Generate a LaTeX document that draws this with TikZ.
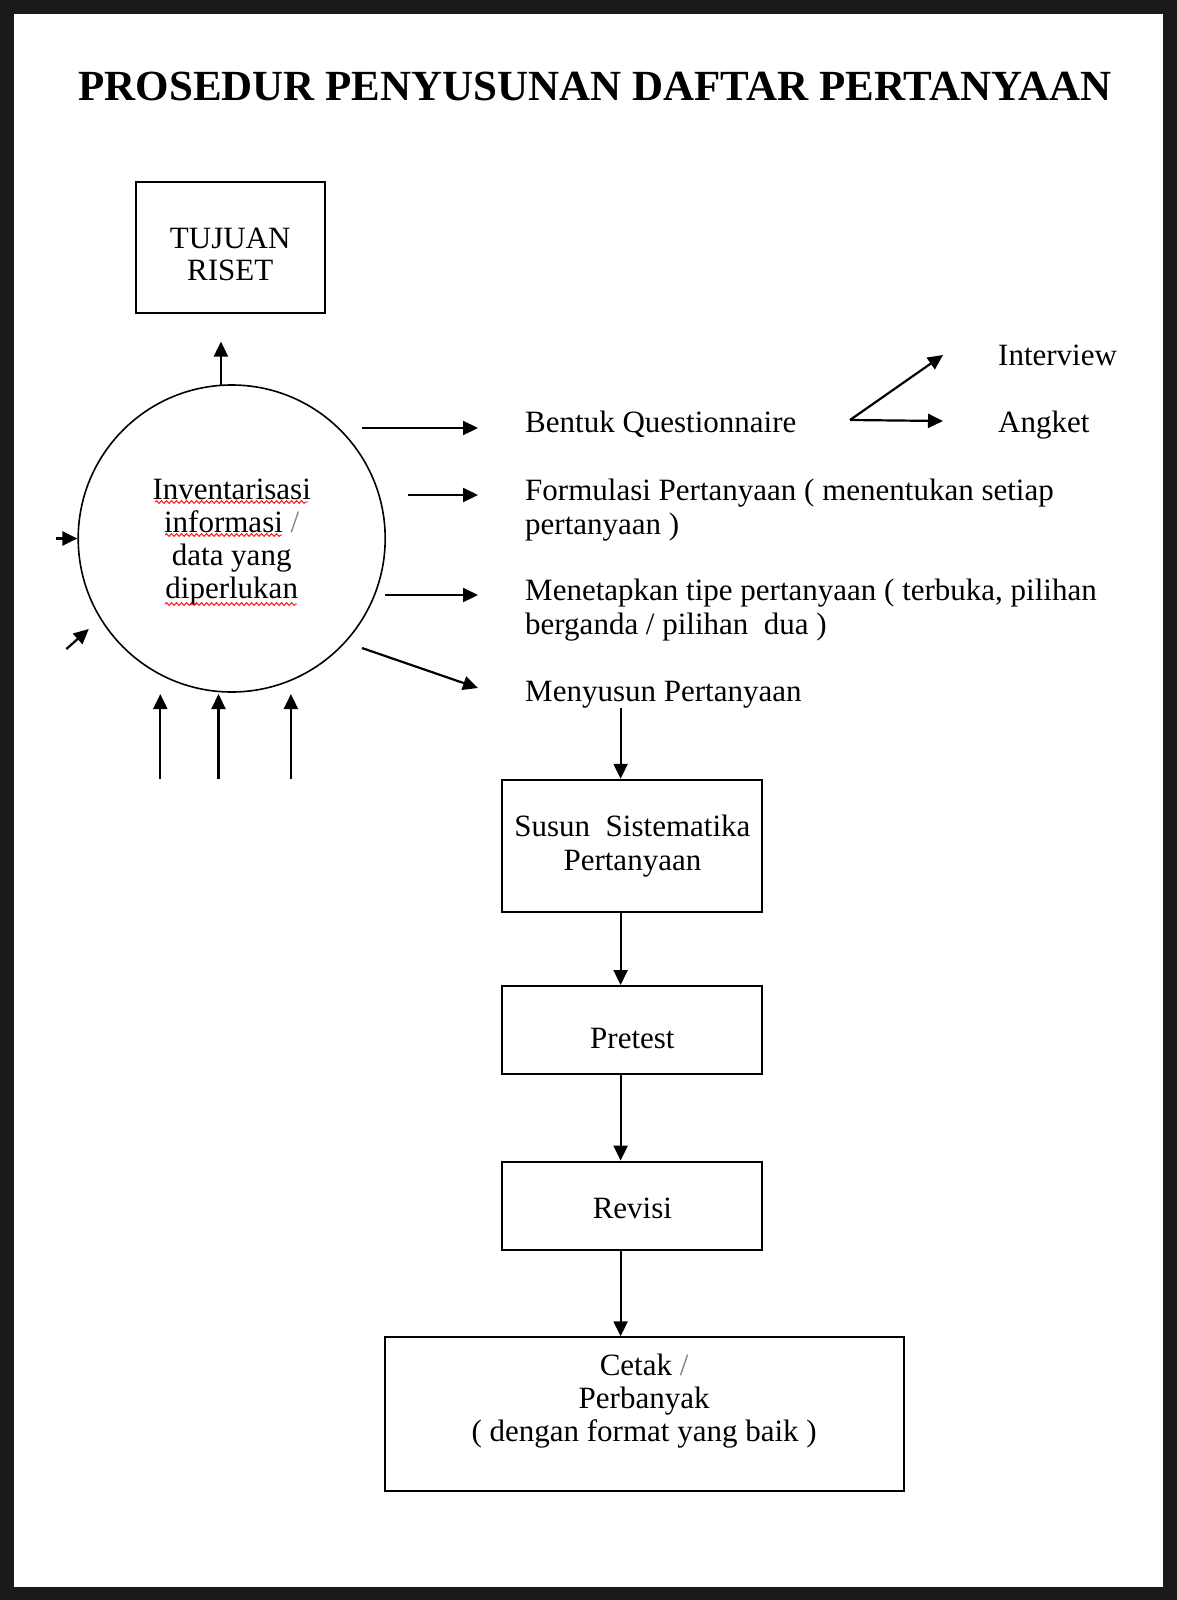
\documentclass[tikz,border=0pt]{standalone}
\usepackage{fontspec}
\setmainfont{Liberation Serif}
\usetikzlibrary{arrows.meta,decorations.pathmorphing}

\tikzset{
  arr/.style={line width=2.2pt,-{Triangle[length=15pt,width=14pt]}},
  flowbox/.style={draw,line width=2pt,inner sep=0pt,align=center},
  txt/.style={anchor=base west,inner sep=0pt,align=left},
  squig/.style={red,line width=0.9pt,decorate,decoration={snake,amplitude=1.4pt,segment length=5pt}}
}

\begin{document}
\begin{tikzpicture}[x=1pt,y=-1pt,font=\fontsize{31}{34}\selectfont]
  \useasboundingbox (0,0) rectangle (1177,1600);
  %frame
  \fill[black!90] (0,0) rectangle (1177,1600);
  \fill[white] (14,14) rectangle (1163,1587);

  %title
  \node[font=\fontsize{43}{46}\selectfont\bfseries,anchor=base,inner sep=0pt] (title) at (595,101) {PROSEDUR PENYUSUNAN DAFTAR PERTANYAAN};

  %tujuan riset + inventarisasi
  \node[flowbox,minimum width=189pt,minimum height=131pt,font=\fontsize{31}{32}\selectfont,
        text height=67pt,text depth=0pt] (tujuan) at (230.2,247) {TUJUAN\\RISET};
  \node[circle,draw,line width=1.6pt,minimum size=307pt,inner sep=0pt,align=center,
        font=\fontsize{31}{33.2}\selectfont,text height=127pt,text depth=6.7pt] (inv) at (231.7,538.5)
        {Inventarisasi\\informasi {\color{gray}/}\\data yang\\diperlukan};
  \draw[squig] (155,502) -- (308,502);
  \draw[squig] (165,535) -- (282,535);
  \draw[squig] (165,604) -- (297,604);
  \draw[arr] (inv.94) -- ++(0,-43);

  %masukan
  \draw[arr] (56,538.5) -- (inv.west);
  \draw[arr] (66.4,649) -- (88.8,629);
  \foreach \x in {160.3,218.5,290.9}
    \draw[arr] (\x,779) -- (\x,694);

  %langkah kanan
  \node[txt] (bentuk) at (525,432) {Bentuk Questionnaire};
  \node[txt] (interview) at (998,365) {Interview};
  \node[txt] (angket) at (998,432) {Angket};
  \node[txt] (formulasi) at (525,534) {Formulasi Pertanyaan ( menentukan setiap\\pertanyaan )};
  \node[txt] (menetapkan) at (525,634) {Menetapkan tipe pertanyaan ( terbuka, pilihan\\berganda / pilihan\ \ dua )};
  \node[txt] (menyusun) at (525,701) {Menyusun Pertanyaan};

  \draw[arr] (362,428) -- (478,428);
  \draw[arr] (408,495) -- (478,495);
  \draw[arr] (385,595) -- (478,595);
  \draw[arr] (362,648) -- (478,688);

  \coordinate (split) at (850,420);
  \draw[arr] (split) -- (943,355);
  \draw[arr] (split) -- (943,421);

  %alur bawah
  \node[flowbox,minimum width=260pt,minimum height=132pt] (susun) at (632.4,845.8) {Susun\ \ Sistematika\\Pertanyaan};
  \node[flowbox,minimum width=260pt,minimum height=88pt,text height=36.7pt,text depth=0pt] (pretest) at (632.4,1030) {Pretest};
  \node[flowbox,minimum width=260pt,minimum height=88pt,text height=25pt,text depth=0pt] (revisi) at (632.4,1205.6) {Revisi};
  \node[flowbox,minimum width=519pt,minimum height=154pt,font=\fontsize{31}{33.3}\selectfont,
        text height=87.8pt,text depth=33pt] (cetak) at (644.1,1414.3)
        {Cetak {\color{gray}/}\\Perbanyak\\( dengan format yang baik )};

  \coordinate (colx) at (620.6,0);
  \draw[arr] (menyusun.south -| colx) -- (susun.north -| colx);
  \draw[arr] (susun.south -| colx) -- (pretest.north -| colx);
  \draw[arr] (pretest.south -| colx) -- (revisi.north -| colx);
  \draw[arr] (revisi.south -| colx) -- (cetak.north -| colx);
\end{tikzpicture}
\end{document}
